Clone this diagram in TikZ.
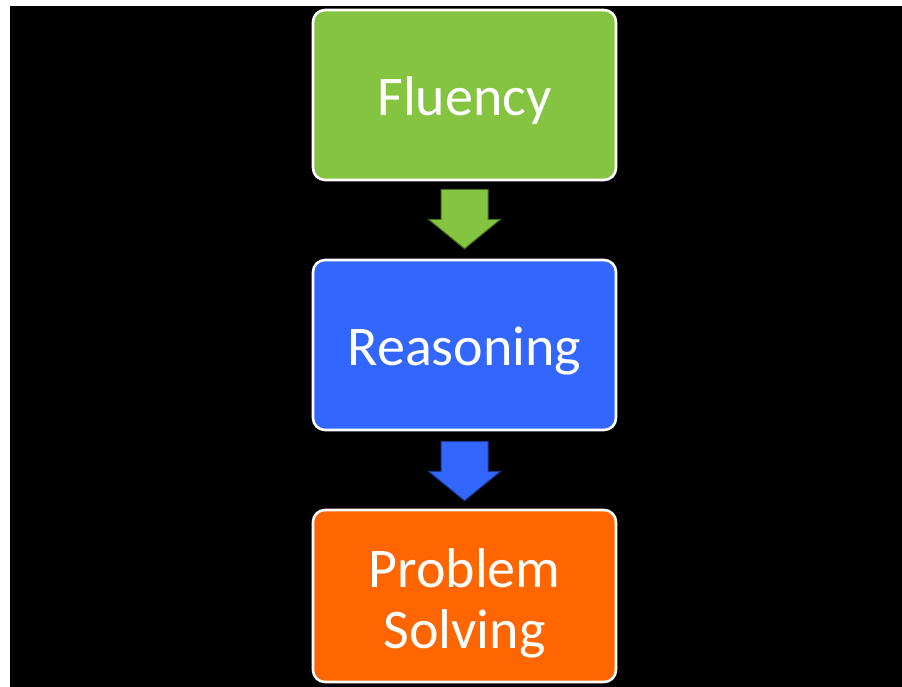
\documentclass[tikz,border=0pt]{standalone}
\usepackage{fontspec}
\setmainfont{Carlito}
\usetikzlibrary{calc}
\definecolor{flugreen}{HTML}{84C441}
\definecolor{reablue}{HTML}{3366FF}
\definecolor{proorange}{HTML}{FF6600}
\tikzset{
  px/.style={x=0.5pt,y=-0.5pt},
  stagebox/.style={draw=white, line width=1.3pt, rounded corners=6pt,
    minimum width=151.5pt, inner sep=0pt, text=white, align=center,
    font=\fontsize{28}{30.5}\selectfont},
  oneline/.style={text height=20pt, text depth=0pt},
  twoline/.style={text height=52pt, text depth=0pt},
  downarrow/.style={line width=0.5pt, line join=miter}
}
\begin{document}
\begin{tikzpicture}[px]
\useasboundingbox (0,0) rectangle (902,687);
\fill[white] (0,0) rectangle (902,687);
\fill[black] (10,6) rectangle (902,687);
\node[stagebox, oneline, fill=flugreen, minimum height=85pt] (flu) at (464.5,95) {Fluency};
\node[stagebox, oneline, fill=reablue, minimum height=85pt] (rea) at (464.5,345) {Reasoning};
\node[stagebox, twoline, fill=proorange, minimum height=86pt] (pro) at (464.5,596) {Problem\\Solving};
% arrows
\draw[downarrow, fill=flugreen, draw=flugreen!55!black]
  ($(flu.south)+(-23.5,8)$) -- ($(flu.south)+(23.5,8)$) -- ($(flu.south)+(23.5,38)$)
  -- ($(flu.south)+(36,38)$) -- ($(rea.north)+(0,-10)$) -- ($(flu.south)+(-36,38)$)
  -- ($(flu.south)+(-23.5,38)$) -- cycle;
\draw[downarrow, fill=reablue, draw=reablue!55!black]
  ($(rea.south)+(-23.5,10)$) -- ($(rea.south)+(23.5,10)$) -- ($(rea.south)+(23.5,40)$)
  -- ($(rea.south)+(36,40)$) -- ($(pro.north)+(0,-8)$) -- ($(rea.south)+(-36,40)$)
  -- ($(rea.south)+(-23.5,40)$) -- cycle;
\end{tikzpicture}
\end{document}
